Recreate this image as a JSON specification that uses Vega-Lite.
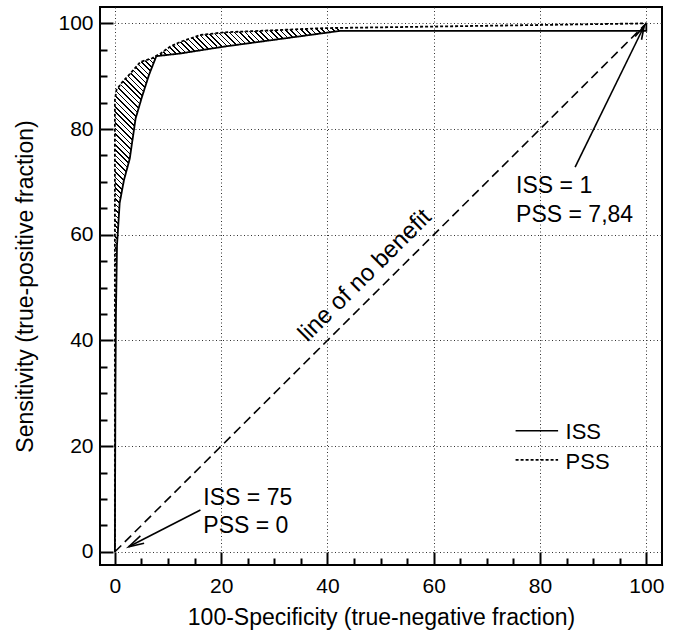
{
  "$schema": "https://vega.github.io/schema/vega-lite/v6.json",
  "width": 562,
  "height": 558,
  "autosize": {"type": "none"},
  "padding": {"left": 100, "top": 7, "right": 15, "bottom": 65},
  "background": "white",
  "config": {
    "view": {"stroke": "black", "strokeWidth": 2},
    "font": "Liberation Sans",
    "axis": {
      "domain": false,
      "ticks": true,
      "tickColor": "black",
      "tickWidth": 2,
      "tickSize": {"condition": {"test": "datum.value % 20 === 0", "value": -13}, "value": -7},
      "grid": true,
      "gridColor": "#333333",
      "gridDash": [1, 2.5],
      "gridWidth": 1,
      "gridOpacity": {"condition": {"test": "datum.value % 20 === 0", "value": 1}, "value": 0},
      "labelExpr": "datum.value % 20 === 0 ? datum.label : ''",
      "labelFont": "Liberation Sans",
      "labelFontSize": 21,
      "labelColor": "black",
      "titleFont": "Liberation Sans",
      "titleFontSize": 23,
      "titleFontWeight": "normal",
      "titleColor": "black"
    }
  },
  "datasets": {
    "curves": [
      {"s": "ISS", "i": 0, "x": 0, "y": 0},
      {"s": "ISS", "i": 1, "x": 0.1, "y": 30},
      {"s": "ISS", "i": 2, "x": 0.2, "y": 45},
      {"s": "ISS", "i": 3, "x": 0.4, "y": 58},
      {"s": "ISS", "i": 4, "x": 0.9, "y": 66},
      {"s": "ISS", "i": 5, "x": 1.7, "y": 70.3},
      {"s": "ISS", "i": 6, "x": 2.8, "y": 74.4},
      {"s": "ISS", "i": 7, "x": 3.9, "y": 82.0},
      {"s": "ISS", "i": 8, "x": 5.1, "y": 86.1},
      {"s": "ISS", "i": 9, "x": 6.4, "y": 90.2},
      {"s": "ISS", "i": 10, "x": 7.8, "y": 93.8},
      {"s": "ISS", "i": 11, "x": 12.3, "y": 94.3},
      {"s": "ISS", "i": 12, "x": 20.5, "y": 95.6},
      {"s": "ISS", "i": 13, "x": 42.5, "y": 98.6},
      {"s": "ISS", "i": 14, "x": 100, "y": 98.6},
      {"s": "ISS", "i": 15, "x": 100, "y": 100},
      {"s": "PSS", "i": 0, "x": 0, "y": 0},
      {"s": "PSS", "i": 1, "x": 0, "y": 85.5},
      {"s": "PSS", "i": 2, "x": 0.3, "y": 87.4},
      {"s": "PSS", "i": 3, "x": 1.4, "y": 88.9},
      {"s": "PSS", "i": 4, "x": 2.9, "y": 90.5},
      {"s": "PSS", "i": 5, "x": 4.8, "y": 92.7},
      {"s": "PSS", "i": 6, "x": 7.0, "y": 93.4},
      {"s": "PSS", "i": 7, "x": 8.6, "y": 94.3},
      {"s": "PSS", "i": 8, "x": 10.4, "y": 95.6},
      {"s": "PSS", "i": 9, "x": 12.3, "y": 96.5},
      {"s": "PSS", "i": 10, "x": 16.1, "y": 97.8},
      {"s": "PSS", "i": 11, "x": 20.5, "y": 98.3},
      {"s": "PSS", "i": 12, "x": 29.9, "y": 98.7},
      {"s": "PSS", "i": 13, "x": 39.3, "y": 99.1},
      {"s": "PSS", "i": 14, "x": 60, "y": 99.4},
      {"s": "PSS", "i": 15, "x": 100, "y": 100}
    ],
    "hatchLow": [
      {"y": 40, "xa": 0, "xb": 0.15},
      {"y": 45, "xa": 0, "xb": 0.2},
      {"y": 58, "xa": 0, "xb": 0.4},
      {"y": 66, "xa": 0, "xb": 0.9},
      {"y": 70.3, "xa": 0, "xb": 1.7},
      {"y": 74.4, "xa": 0, "xb": 2.8},
      {"y": 82, "xa": 0, "xb": 3.9},
      {"y": 85.5, "xa": 0, "xb": 4.9},
      {"y": 87.4, "xa": 0.3, "xb": 5.5},
      {"y": 88.9, "xa": 1.4, "xb": 5.9},
      {"y": 90.5, "xa": 2.9, "xb": 6.5},
      {"y": 92.7, "xa": 4.8, "xb": 7.3},
      {"y": 93.4, "xa": 7.0, "xb": 7.6},
      {"y": 93.8, "xa": 7.8, "xb": 7.8}
    ],
    "hatchHigh": [
      {"x": 7.8, "ya": 93.8, "yb": 93.8},
      {"x": 8.6, "ya": 94.0, "yb": 94.3},
      {"x": 10.4, "ya": 94.1, "yb": 95.6},
      {"x": 12.3, "ya": 94.3, "yb": 96.5},
      {"x": 16.1, "ya": 94.9, "yb": 97.8},
      {"x": 20.5, "ya": 95.6, "yb": 98.3},
      {"x": 29.9, "ya": 97.0, "yb": 98.7},
      {"x": 39.3, "ya": 98.2, "yb": 99.1},
      {"x": 42.5, "ya": 98.6, "yb": 99.2}
    ],
    "diag": [
      {"x": 0, "y": 0},
      {"x": 100, "y": 100}
    ],
    "arrows": [
      {"seg": "a1", "i": 0, "x": 86.6, "y": 72.8},
      {"seg": "a1", "i": 1, "x": 99.6, "y": 99.5},
      {"seg": "h1", "i": 0, "x": 97.9, "y": 97.5},
      {"seg": "h1", "i": 1, "x": 99.6, "y": 99.5},
      {"seg": "h1", "i": 2, "x": 99.1, "y": 96.9},
      {"seg": "a2", "i": 0, "x": 16.1, "y": 7.9},
      {"seg": "a2", "i": 1, "x": 2.6, "y": 0.95},
      {"seg": "h2", "i": 0, "x": 5.5, "y": 1.6},
      {"seg": "h2", "i": 1, "x": 2.6, "y": 0.95},
      {"seg": "h2", "i": 2, "x": 4.8, "y": 3.0}
    ],
    "notes": [
      {"x": 75.5, "y": 67.9, "t": "ISS = 1"},
      {"x": 75.5, "y": 62.5, "t": "PSS = 7,84"},
      {"x": 16.65, "y": 8.8, "t": "ISS = 75"},
      {"x": 16.65, "y": 3.5, "t": "PSS = 0"}
    ],
    "legendLines": [
      {"s": "ISS", "x": 75.4, "x2": 83.4, "y": 22.9},
      {"s": "PSS", "x": 75.4, "x2": 83.4, "y": 17.4}
    ],
    "legendText": [
      {"x": 84.8, "y": 21.3, "t": "ISS"},
      {"x": 84.8, "y": 15.7, "t": "PSS"}
    ],
    "diagLabel": [
      {"x": 49.6, "y": 49.7, "t": "line of no benefit"}
    ]
  },
  "layer": [
    {
      "data": {"name": "hatchLow"},
      "mark": {"type": "area", "orient": "horizontal", "stroke": null,
        "fill": {"gradient": "linear", "x1": 0, "y1": 1, "x2": 0.1636, "y2": -0.1219, "stops": [
          {"offset": 0, "color": "#000"}, {"offset": 0.005, "color": "#000"}, {"offset": 0.005, "color": "#fff"}, {"offset": 0.0167, "color": "#fff"},
          {"offset": 0.0167, "color": "#000"}, {"offset": 0.0217, "color": "#000"}, {"offset": 0.0217, "color": "#fff"}, {"offset": 0.0333, "color": "#fff"},
          {"offset": 0.0333, "color": "#000"}, {"offset": 0.0383, "color": "#000"}, {"offset": 0.0383, "color": "#fff"}, {"offset": 0.05, "color": "#fff"},
          {"offset": 0.05, "color": "#000"}, {"offset": 0.055, "color": "#000"}, {"offset": 0.055, "color": "#fff"}, {"offset": 0.0667, "color": "#fff"},
          {"offset": 0.0667, "color": "#000"}, {"offset": 0.0717, "color": "#000"}, {"offset": 0.0717, "color": "#fff"}, {"offset": 0.0833, "color": "#fff"},
          {"offset": 0.0833, "color": "#000"}, {"offset": 0.0883, "color": "#000"}, {"offset": 0.0883, "color": "#fff"}, {"offset": 0.1, "color": "#fff"},
          {"offset": 0.1, "color": "#000"}, {"offset": 0.105, "color": "#000"}, {"offset": 0.105, "color": "#fff"}, {"offset": 0.1167, "color": "#fff"},
          {"offset": 0.1167, "color": "#000"}, {"offset": 0.1217, "color": "#000"}, {"offset": 0.1217, "color": "#fff"}, {"offset": 0.1333, "color": "#fff"},
          {"offset": 0.1333, "color": "#000"}, {"offset": 0.1383, "color": "#000"}, {"offset": 0.1383, "color": "#fff"}, {"offset": 0.15, "color": "#fff"},
          {"offset": 0.15, "color": "#000"}, {"offset": 0.155, "color": "#000"}, {"offset": 0.155, "color": "#fff"}, {"offset": 0.1667, "color": "#fff"},
          {"offset": 0.1667, "color": "#000"}, {"offset": 0.1717, "color": "#000"}, {"offset": 0.1717, "color": "#fff"}, {"offset": 0.1833, "color": "#fff"},
          {"offset": 0.1833, "color": "#000"}, {"offset": 0.1883, "color": "#000"}, {"offset": 0.1883, "color": "#fff"}, {"offset": 0.2, "color": "#fff"},
          {"offset": 0.2, "color": "#000"}, {"offset": 0.205, "color": "#000"}, {"offset": 0.205, "color": "#fff"}, {"offset": 0.2167, "color": "#fff"},
          {"offset": 0.2167, "color": "#000"}, {"offset": 0.2217, "color": "#000"}, {"offset": 0.2217, "color": "#fff"}, {"offset": 0.2333, "color": "#fff"},
          {"offset": 0.2333, "color": "#000"}, {"offset": 0.2383, "color": "#000"}, {"offset": 0.2383, "color": "#fff"}, {"offset": 0.25, "color": "#fff"},
          {"offset": 0.25, "color": "#000"}, {"offset": 0.255, "color": "#000"}, {"offset": 0.255, "color": "#fff"}, {"offset": 0.2667, "color": "#fff"},
          {"offset": 0.2667, "color": "#000"}, {"offset": 0.2717, "color": "#000"}, {"offset": 0.2717, "color": "#fff"}, {"offset": 0.2833, "color": "#fff"},
          {"offset": 0.2833, "color": "#000"}, {"offset": 0.2883, "color": "#000"}, {"offset": 0.2883, "color": "#fff"}, {"offset": 0.3, "color": "#fff"},
          {"offset": 0.3, "color": "#000"}, {"offset": 0.305, "color": "#000"}, {"offset": 0.305, "color": "#fff"}, {"offset": 0.3167, "color": "#fff"},
          {"offset": 0.3167, "color": "#000"}, {"offset": 0.3217, "color": "#000"}, {"offset": 0.3217, "color": "#fff"}, {"offset": 0.3333, "color": "#fff"},
          {"offset": 0.3333, "color": "#000"}, {"offset": 0.3383, "color": "#000"}, {"offset": 0.3383, "color": "#fff"}, {"offset": 0.35, "color": "#fff"},
          {"offset": 0.35, "color": "#000"}, {"offset": 0.355, "color": "#000"}, {"offset": 0.355, "color": "#fff"}, {"offset": 0.3667, "color": "#fff"},
          {"offset": 0.3667, "color": "#000"}, {"offset": 0.3717, "color": "#000"}, {"offset": 0.3717, "color": "#fff"}, {"offset": 0.3833, "color": "#fff"},
          {"offset": 0.3833, "color": "#000"}, {"offset": 0.3883, "color": "#000"}, {"offset": 0.3883, "color": "#fff"}, {"offset": 0.4, "color": "#fff"},
          {"offset": 0.4, "color": "#000"}, {"offset": 0.405, "color": "#000"}, {"offset": 0.405, "color": "#fff"}, {"offset": 0.4167, "color": "#fff"},
          {"offset": 0.4167, "color": "#000"}, {"offset": 0.4217, "color": "#000"}, {"offset": 0.4217, "color": "#fff"}, {"offset": 0.4333, "color": "#fff"},
          {"offset": 0.4333, "color": "#000"}, {"offset": 0.4383, "color": "#000"}, {"offset": 0.4383, "color": "#fff"}, {"offset": 0.45, "color": "#fff"},
          {"offset": 0.45, "color": "#000"}, {"offset": 0.455, "color": "#000"}, {"offset": 0.455, "color": "#fff"}, {"offset": 0.4667, "color": "#fff"},
          {"offset": 0.4667, "color": "#000"}, {"offset": 0.4717, "color": "#000"}, {"offset": 0.4717, "color": "#fff"}, {"offset": 0.4833, "color": "#fff"},
          {"offset": 0.4833, "color": "#000"}, {"offset": 0.4883, "color": "#000"}, {"offset": 0.4883, "color": "#fff"}, {"offset": 0.5, "color": "#fff"},
          {"offset": 0.5, "color": "#000"}, {"offset": 0.505, "color": "#000"}, {"offset": 0.505, "color": "#fff"}, {"offset": 0.5167, "color": "#fff"},
          {"offset": 0.5167, "color": "#000"}, {"offset": 0.5217, "color": "#000"}, {"offset": 0.5217, "color": "#fff"}, {"offset": 0.5333, "color": "#fff"},
          {"offset": 0.5333, "color": "#000"}, {"offset": 0.5383, "color": "#000"}, {"offset": 0.5383, "color": "#fff"}, {"offset": 0.55, "color": "#fff"},
          {"offset": 0.55, "color": "#000"}, {"offset": 0.555, "color": "#000"}, {"offset": 0.555, "color": "#fff"}, {"offset": 0.5667, "color": "#fff"},
          {"offset": 0.5667, "color": "#000"}, {"offset": 0.5717, "color": "#000"}, {"offset": 0.5717, "color": "#fff"}, {"offset": 0.5833, "color": "#fff"},
          {"offset": 0.5833, "color": "#000"}, {"offset": 0.5883, "color": "#000"}, {"offset": 0.5883, "color": "#fff"}, {"offset": 0.6, "color": "#fff"},
          {"offset": 0.6, "color": "#000"}, {"offset": 0.605, "color": "#000"}, {"offset": 0.605, "color": "#fff"}, {"offset": 0.6167, "color": "#fff"},
          {"offset": 0.6167, "color": "#000"}, {"offset": 0.6217, "color": "#000"}, {"offset": 0.6217, "color": "#fff"}, {"offset": 0.6333, "color": "#fff"},
          {"offset": 0.6333, "color": "#000"}, {"offset": 0.6383, "color": "#000"}, {"offset": 0.6383, "color": "#fff"}, {"offset": 0.65, "color": "#fff"},
          {"offset": 0.65, "color": "#000"}, {"offset": 0.655, "color": "#000"}, {"offset": 0.655, "color": "#fff"}, {"offset": 0.6667, "color": "#fff"},
          {"offset": 0.6667, "color": "#000"}, {"offset": 0.6717, "color": "#000"}, {"offset": 0.6717, "color": "#fff"}, {"offset": 0.6833, "color": "#fff"},
          {"offset": 0.6833, "color": "#000"}, {"offset": 0.6883, "color": "#000"}, {"offset": 0.6883, "color": "#fff"}, {"offset": 0.7, "color": "#fff"},
          {"offset": 0.7, "color": "#000"}, {"offset": 0.705, "color": "#000"}, {"offset": 0.705, "color": "#fff"}, {"offset": 0.7167, "color": "#fff"},
          {"offset": 0.7167, "color": "#000"}, {"offset": 0.7217, "color": "#000"}, {"offset": 0.7217, "color": "#fff"}, {"offset": 0.7333, "color": "#fff"},
          {"offset": 0.7333, "color": "#000"}, {"offset": 0.7383, "color": "#000"}, {"offset": 0.7383, "color": "#fff"}, {"offset": 0.75, "color": "#fff"},
          {"offset": 0.75, "color": "#000"}, {"offset": 0.755, "color": "#000"}, {"offset": 0.755, "color": "#fff"}, {"offset": 0.7667, "color": "#fff"},
          {"offset": 0.7667, "color": "#000"}, {"offset": 0.7717, "color": "#000"}, {"offset": 0.7717, "color": "#fff"}, {"offset": 0.7833, "color": "#fff"},
          {"offset": 0.7833, "color": "#000"}, {"offset": 0.7883, "color": "#000"}, {"offset": 0.7883, "color": "#fff"}, {"offset": 0.8, "color": "#fff"},
          {"offset": 0.8, "color": "#000"}, {"offset": 0.805, "color": "#000"}, {"offset": 0.805, "color": "#fff"}, {"offset": 0.8167, "color": "#fff"},
          {"offset": 0.8167, "color": "#000"}, {"offset": 0.8217, "color": "#000"}, {"offset": 0.8217, "color": "#fff"}, {"offset": 0.8333, "color": "#fff"},
          {"offset": 0.8333, "color": "#000"}, {"offset": 0.8383, "color": "#000"}, {"offset": 0.8383, "color": "#fff"}, {"offset": 0.85, "color": "#fff"},
          {"offset": 0.85, "color": "#000"}, {"offset": 0.855, "color": "#000"}, {"offset": 0.855, "color": "#fff"}, {"offset": 0.8667, "color": "#fff"},
          {"offset": 0.8667, "color": "#000"}, {"offset": 0.8717, "color": "#000"}, {"offset": 0.8717, "color": "#fff"}, {"offset": 0.8833, "color": "#fff"},
          {"offset": 0.8833, "color": "#000"}, {"offset": 0.8883, "color": "#000"}, {"offset": 0.8883, "color": "#fff"}, {"offset": 0.9, "color": "#fff"},
          {"offset": 0.9, "color": "#000"}, {"offset": 0.905, "color": "#000"}, {"offset": 0.905, "color": "#fff"}, {"offset": 0.9167, "color": "#fff"},
          {"offset": 0.9167, "color": "#000"}, {"offset": 0.9217, "color": "#000"}, {"offset": 0.9217, "color": "#fff"}, {"offset": 0.9333, "color": "#fff"},
          {"offset": 0.9333, "color": "#000"}, {"offset": 0.9383, "color": "#000"}, {"offset": 0.9383, "color": "#fff"}, {"offset": 0.95, "color": "#fff"},
          {"offset": 0.95, "color": "#000"}, {"offset": 0.955, "color": "#000"}, {"offset": 0.955, "color": "#fff"}, {"offset": 0.9667, "color": "#fff"},
          {"offset": 0.9667, "color": "#000"}, {"offset": 0.9717, "color": "#000"}, {"offset": 0.9717, "color": "#fff"}, {"offset": 0.9833, "color": "#fff"},
          {"offset": 0.9833, "color": "#000"}, {"offset": 0.9883, "color": "#000"}, {"offset": 0.9883, "color": "#fff"}, {"offset": 1, "color": "#fff"}
        ]}},
      "encoding": {
        "y": {"field": "y", "type": "quantitative",
              "scale": {"domain": [-2.5, 103.1], "nice": false, "zero": false},
              "axis": {"values": [0, 5, 10, 15, 20, 25, 30, 35, 40, 45, 50, 55, 60, 65, 70, 75, 80, 85, 90, 95, 100], "labelPadding": 20, "titlePadding": 20, "title": "Sensitivity (true-positive fraction)"}},
        "x": {"field": "xa", "type": "quantitative",
              "scale": {"domain": [-2.8, 102.95], "nice": false, "zero": false},
              "axis": {"values": [0, 5, 10, 15, 20, 25, 30, 35, 40, 45, 50, 55, 60, 65, 70, 75, 80, 85, 90, 95, 100], "labelPadding": 23, "titlePadding": 10, "title": "100-Specificity (true-negative fraction)"}},
        "x2": {"field": "xb"}
      }
    },
    {
      "data": {"name": "hatchHigh"},
      "mark": {"type": "area", "orient": "vertical", "stroke": null,
        "fill": {"gradient": "linear", "x1": 0, "y1": 1, "x2": 1.1277, "y2": 0.8257, "stops": [
          {"offset": 0, "color": "#000"}, {"offset": 0.0075, "color": "#000"}, {"offset": 0.0075, "color": "#fff"}, {"offset": 0.025, "color": "#fff"},
          {"offset": 0.025, "color": "#000"}, {"offset": 0.0325, "color": "#000"}, {"offset": 0.0325, "color": "#fff"}, {"offset": 0.05, "color": "#fff"},
          {"offset": 0.05, "color": "#000"}, {"offset": 0.0575, "color": "#000"}, {"offset": 0.0575, "color": "#fff"}, {"offset": 0.075, "color": "#fff"},
          {"offset": 0.075, "color": "#000"}, {"offset": 0.0825, "color": "#000"}, {"offset": 0.0825, "color": "#fff"}, {"offset": 0.1, "color": "#fff"},
          {"offset": 0.1, "color": "#000"}, {"offset": 0.1075, "color": "#000"}, {"offset": 0.1075, "color": "#fff"}, {"offset": 0.125, "color": "#fff"},
          {"offset": 0.125, "color": "#000"}, {"offset": 0.1325, "color": "#000"}, {"offset": 0.1325, "color": "#fff"}, {"offset": 0.15, "color": "#fff"},
          {"offset": 0.15, "color": "#000"}, {"offset": 0.1575, "color": "#000"}, {"offset": 0.1575, "color": "#fff"}, {"offset": 0.175, "color": "#fff"},
          {"offset": 0.175, "color": "#000"}, {"offset": 0.1825, "color": "#000"}, {"offset": 0.1825, "color": "#fff"}, {"offset": 0.2, "color": "#fff"},
          {"offset": 0.2, "color": "#000"}, {"offset": 0.2075, "color": "#000"}, {"offset": 0.2075, "color": "#fff"}, {"offset": 0.225, "color": "#fff"},
          {"offset": 0.225, "color": "#000"}, {"offset": 0.2325, "color": "#000"}, {"offset": 0.2325, "color": "#fff"}, {"offset": 0.25, "color": "#fff"},
          {"offset": 0.25, "color": "#000"}, {"offset": 0.2575, "color": "#000"}, {"offset": 0.2575, "color": "#fff"}, {"offset": 0.275, "color": "#fff"},
          {"offset": 0.275, "color": "#000"}, {"offset": 0.2825, "color": "#000"}, {"offset": 0.2825, "color": "#fff"}, {"offset": 0.3, "color": "#fff"},
          {"offset": 0.3, "color": "#000"}, {"offset": 0.3075, "color": "#000"}, {"offset": 0.3075, "color": "#fff"}, {"offset": 0.325, "color": "#fff"},
          {"offset": 0.325, "color": "#000"}, {"offset": 0.3325, "color": "#000"}, {"offset": 0.3325, "color": "#fff"}, {"offset": 0.35, "color": "#fff"},
          {"offset": 0.35, "color": "#000"}, {"offset": 0.3575, "color": "#000"}, {"offset": 0.3575, "color": "#fff"}, {"offset": 0.375, "color": "#fff"},
          {"offset": 0.375, "color": "#000"}, {"offset": 0.3825, "color": "#000"}, {"offset": 0.3825, "color": "#fff"}, {"offset": 0.4, "color": "#fff"},
          {"offset": 0.4, "color": "#000"}, {"offset": 0.4075, "color": "#000"}, {"offset": 0.4075, "color": "#fff"}, {"offset": 0.425, "color": "#fff"},
          {"offset": 0.425, "color": "#000"}, {"offset": 0.4325, "color": "#000"}, {"offset": 0.4325, "color": "#fff"}, {"offset": 0.45, "color": "#fff"},
          {"offset": 0.45, "color": "#000"}, {"offset": 0.4575, "color": "#000"}, {"offset": 0.4575, "color": "#fff"}, {"offset": 0.475, "color": "#fff"},
          {"offset": 0.475, "color": "#000"}, {"offset": 0.4825, "color": "#000"}, {"offset": 0.4825, "color": "#fff"}, {"offset": 0.5, "color": "#fff"},
          {"offset": 0.5, "color": "#000"}, {"offset": 0.5075, "color": "#000"}, {"offset": 0.5075, "color": "#fff"}, {"offset": 0.525, "color": "#fff"},
          {"offset": 0.525, "color": "#000"}, {"offset": 0.5325, "color": "#000"}, {"offset": 0.5325, "color": "#fff"}, {"offset": 0.55, "color": "#fff"},
          {"offset": 0.55, "color": "#000"}, {"offset": 0.5575, "color": "#000"}, {"offset": 0.5575, "color": "#fff"}, {"offset": 0.575, "color": "#fff"},
          {"offset": 0.575, "color": "#000"}, {"offset": 0.5825, "color": "#000"}, {"offset": 0.5825, "color": "#fff"}, {"offset": 0.6, "color": "#fff"},
          {"offset": 0.6, "color": "#000"}, {"offset": 0.6075, "color": "#000"}, {"offset": 0.6075, "color": "#fff"}, {"offset": 0.625, "color": "#fff"},
          {"offset": 0.625, "color": "#000"}, {"offset": 0.6325, "color": "#000"}, {"offset": 0.6325, "color": "#fff"}, {"offset": 0.65, "color": "#fff"},
          {"offset": 0.65, "color": "#000"}, {"offset": 0.6575, "color": "#000"}, {"offset": 0.6575, "color": "#fff"}, {"offset": 0.675, "color": "#fff"},
          {"offset": 0.675, "color": "#000"}, {"offset": 0.6825, "color": "#000"}, {"offset": 0.6825, "color": "#fff"}, {"offset": 0.7, "color": "#fff"},
          {"offset": 0.7, "color": "#000"}, {"offset": 0.7075, "color": "#000"}, {"offset": 0.7075, "color": "#fff"}, {"offset": 0.725, "color": "#fff"},
          {"offset": 0.725, "color": "#000"}, {"offset": 0.7325, "color": "#000"}, {"offset": 0.7325, "color": "#fff"}, {"offset": 0.75, "color": "#fff"},
          {"offset": 0.75, "color": "#000"}, {"offset": 0.7575, "color": "#000"}, {"offset": 0.7575, "color": "#fff"}, {"offset": 0.775, "color": "#fff"},
          {"offset": 0.775, "color": "#000"}, {"offset": 0.7825, "color": "#000"}, {"offset": 0.7825, "color": "#fff"}, {"offset": 0.8, "color": "#fff"},
          {"offset": 0.8, "color": "#000"}, {"offset": 0.8075, "color": "#000"}, {"offset": 0.8075, "color": "#fff"}, {"offset": 0.825, "color": "#fff"},
          {"offset": 0.825, "color": "#000"}, {"offset": 0.8325, "color": "#000"}, {"offset": 0.8325, "color": "#fff"}, {"offset": 0.85, "color": "#fff"},
          {"offset": 0.85, "color": "#000"}, {"offset": 0.8575, "color": "#000"}, {"offset": 0.8575, "color": "#fff"}, {"offset": 0.875, "color": "#fff"},
          {"offset": 0.875, "color": "#000"}, {"offset": 0.8825, "color": "#000"}, {"offset": 0.8825, "color": "#fff"}, {"offset": 0.9, "color": "#fff"},
          {"offset": 0.9, "color": "#000"}, {"offset": 0.9075, "color": "#000"}, {"offset": 0.9075, "color": "#fff"}, {"offset": 0.925, "color": "#fff"},
          {"offset": 0.925, "color": "#000"}, {"offset": 0.9325, "color": "#000"}, {"offset": 0.9325, "color": "#fff"}, {"offset": 0.95, "color": "#fff"},
          {"offset": 0.95, "color": "#000"}, {"offset": 0.9575, "color": "#000"}, {"offset": 0.9575, "color": "#fff"}, {"offset": 0.975, "color": "#fff"},
          {"offset": 0.975, "color": "#000"}, {"offset": 0.9825, "color": "#000"}, {"offset": 0.9825, "color": "#fff"}, {"offset": 1, "color": "#fff"}
        ]}},
      "encoding": {
        "x": {"field": "x", "type": "quantitative", "scale": {"domain": [-2.8, 102.95], "nice": false, "zero": false},
              "axis": {"values": [0, 5, 10, 15, 20, 25, 30, 35, 40, 45, 50, 55, 60, 65, 70, 75, 80, 85, 90, 95, 100], "labelPadding": 23, "titlePadding": 10, "title": "100-Specificity (true-negative fraction)"}},
        "y": {"field": "ya", "type": "quantitative", "scale": {"domain": [-2.5, 103.1], "nice": false, "zero": false},
              "axis": {"values": [0, 5, 10, 15, 20, 25, 30, 35, 40, 45, 50, 55, 60, 65, 70, 75, 80, 85, 90, 95, 100], "labelPadding": 20, "titlePadding": 20, "title": "Sensitivity (true-positive fraction)"}},
        "y2": {"field": "yb"}
      }
    },
    {
      "data": {"name": "diag"},
      "mark": {"type": "line", "color": "black", "strokeWidth": 1.6, "strokeDash": [9, 5]},
      "encoding": {
        "x": {"field": "x", "type": "quantitative", "scale": {"domain": [-2.8, 102.95], "nice": false, "zero": false},
              "axis": {"values": [0, 5, 10, 15, 20, 25, 30, 35, 40, 45, 50, 55, 60, 65, 70, 75, 80, 85, 90, 95, 100], "labelPadding": 23, "titlePadding": 10, "title": "100-Specificity (true-negative fraction)"}},
        "y": {"field": "y", "type": "quantitative", "scale": {"domain": [-2.5, 103.1], "nice": false, "zero": false},
              "axis": {"values": [0, 5, 10, 15, 20, 25, 30, 35, 40, 45, 50, 55, 60, 65, 70, 75, 80, 85, 90, 95, 100], "labelPadding": 20, "titlePadding": 20, "title": "Sensitivity (true-positive fraction)"}}
      }
    },
    {
      "data": {"name": "curves"},
      "mark": {"type": "line", "color": "black", "strokeWidth": 1.8},
      "encoding": {
        "x": {"field": "x", "type": "quantitative", "scale": {"domain": [-2.8, 102.95], "nice": false, "zero": false},
              "axis": {"values": [0, 5, 10, 15, 20, 25, 30, 35, 40, 45, 50, 55, 60, 65, 70, 75, 80, 85, 90, 95, 100], "labelPadding": 23, "titlePadding": 10, "title": "100-Specificity (true-negative fraction)"}},
        "y": {"field": "y", "type": "quantitative", "scale": {"domain": [-2.5, 103.1], "nice": false, "zero": false},
              "axis": {"values": [0, 5, 10, 15, 20, 25, 30, 35, 40, 45, 50, 55, 60, 65, 70, 75, 80, 85, 90, 95, 100], "labelPadding": 20, "titlePadding": 20, "title": "Sensitivity (true-positive fraction)"}},
        "order": {"field": "i", "type": "quantitative"},
        "strokeDash": {"field": "s", "type": "nominal", "scale": {"domain": ["ISS", "PSS"], "range": [[1, 0], [3, 2]]}, "legend": null}
      }
    },
    {
      "data": {"name": "arrows"},
      "mark": {"type": "line", "color": "black", "strokeWidth": 1.6},
      "encoding": {
        "x": {"field": "x", "type": "quantitative", "scale": {"domain": [-2.8, 102.95], "nice": false, "zero": false},
              "axis": {"values": [0, 5, 10, 15, 20, 25, 30, 35, 40, 45, 50, 55, 60, 65, 70, 75, 80, 85, 90, 95, 100], "labelPadding": 23, "titlePadding": 10, "title": "100-Specificity (true-negative fraction)"}},
        "y": {"field": "y", "type": "quantitative", "scale": {"domain": [-2.5, 103.1], "nice": false, "zero": false},
              "axis": {"values": [0, 5, 10, 15, 20, 25, 30, 35, 40, 45, 50, 55, 60, 65, 70, 75, 80, 85, 90, 95, 100], "labelPadding": 20, "titlePadding": 20, "title": "Sensitivity (true-positive fraction)"}},
        "order": {"field": "i", "type": "quantitative"},
        "detail": {"field": "seg", "type": "nominal"}
      }
    },
    {
      "data": {"name": "legendLines"},
      "mark": {"type": "rule", "color": "black", "strokeWidth": 1.6},
      "encoding": {
        "x": {"field": "x", "type": "quantitative", "scale": {"domain": [-2.8, 102.95], "nice": false, "zero": false},
              "axis": {"values": [0, 5, 10, 15, 20, 25, 30, 35, 40, 45, 50, 55, 60, 65, 70, 75, 80, 85, 90, 95, 100], "labelPadding": 23, "titlePadding": 10, "title": "100-Specificity (true-negative fraction)"}},
        "x2": {"field": "x2"},
        "y": {"field": "y", "type": "quantitative", "scale": {"domain": [-2.5, 103.1], "nice": false, "zero": false},
              "axis": {"values": [0, 5, 10, 15, 20, 25, 30, 35, 40, 45, 50, 55, 60, 65, 70, 75, 80, 85, 90, 95, 100], "labelPadding": 20, "titlePadding": 20, "title": "Sensitivity (true-positive fraction)"}},
        "strokeDash": {"field": "s", "type": "nominal", "scale": {"domain": ["ISS", "PSS"], "range": [[1, 0], [3, 2]]}, "legend": null}
      }
    },
    {
      "data": {"name": "notes"},
      "mark": {"type": "text", "align": "left", "baseline": "alphabetic", "fontSize": 23, "font": "Liberation Sans", "color": "black"},
      "encoding": {
        "x": {"field": "x", "type": "quantitative", "scale": {"domain": [-2.8, 102.95], "nice": false, "zero": false},
              "axis": {"values": [0, 5, 10, 15, 20, 25, 30, 35, 40, 45, 50, 55, 60, 65, 70, 75, 80, 85, 90, 95, 100], "labelPadding": 23, "titlePadding": 10, "title": "100-Specificity (true-negative fraction)"}},
        "y": {"field": "y", "type": "quantitative", "scale": {"domain": [-2.5, 103.1], "nice": false, "zero": false},
              "axis": {"values": [0, 5, 10, 15, 20, 25, 30, 35, 40, 45, 50, 55, 60, 65, 70, 75, 80, 85, 90, 95, 100], "labelPadding": 20, "titlePadding": 20, "title": "Sensitivity (true-positive fraction)"}},
        "text": {"field": "t"}
      }
    },
    {
      "data": {"name": "legendText"},
      "mark": {"type": "text", "align": "left", "baseline": "alphabetic", "fontSize": 22, "font": "Liberation Sans", "color": "black"},
      "encoding": {
        "x": {"field": "x", "type": "quantitative", "scale": {"domain": [-2.8, 102.95], "nice": false, "zero": false},
              "axis": {"values": [0, 5, 10, 15, 20, 25, 30, 35, 40, 45, 50, 55, 60, 65, 70, 75, 80, 85, 90, 95, 100], "labelPadding": 23, "titlePadding": 10, "title": "100-Specificity (true-negative fraction)"}},
        "y": {"field": "y", "type": "quantitative", "scale": {"domain": [-2.5, 103.1], "nice": false, "zero": false},
              "axis": {"values": [0, 5, 10, 15, 20, 25, 30, 35, 40, 45, 50, 55, 60, 65, 70, 75, 80, 85, 90, 95, 100], "labelPadding": 20, "titlePadding": 20, "title": "Sensitivity (true-positive fraction)"}},
        "text": {"field": "t"}
      }
    },
    {
      "data": {"name": "diagLabel"},
      "mark": {"type": "text", "align": "center", "baseline": "alphabetic", "fontSize": 24, "font": "Liberation Sans", "color": "black", "angle": -44.8, "dy": -12},
      "encoding": {
        "x": {"field": "x", "type": "quantitative", "scale": {"domain": [-2.8, 102.95], "nice": false, "zero": false},
              "axis": {"values": [0, 5, 10, 15, 20, 25, 30, 35, 40, 45, 50, 55, 60, 65, 70, 75, 80, 85, 90, 95, 100], "labelPadding": 23, "titlePadding": 10, "title": "100-Specificity (true-negative fraction)"}},
        "y": {"field": "y", "type": "quantitative", "scale": {"domain": [-2.5, 103.1], "nice": false, "zero": false},
              "axis": {"values": [0, 5, 10, 15, 20, 25, 30, 35, 40, 45, 50, 55, 60, 65, 70, 75, 80, 85, 90, 95, 100], "labelPadding": 20, "titlePadding": 20, "title": "Sensitivity (true-positive fraction)"}},
        "text": {"field": "t"}
      }
    }
  ]
}
